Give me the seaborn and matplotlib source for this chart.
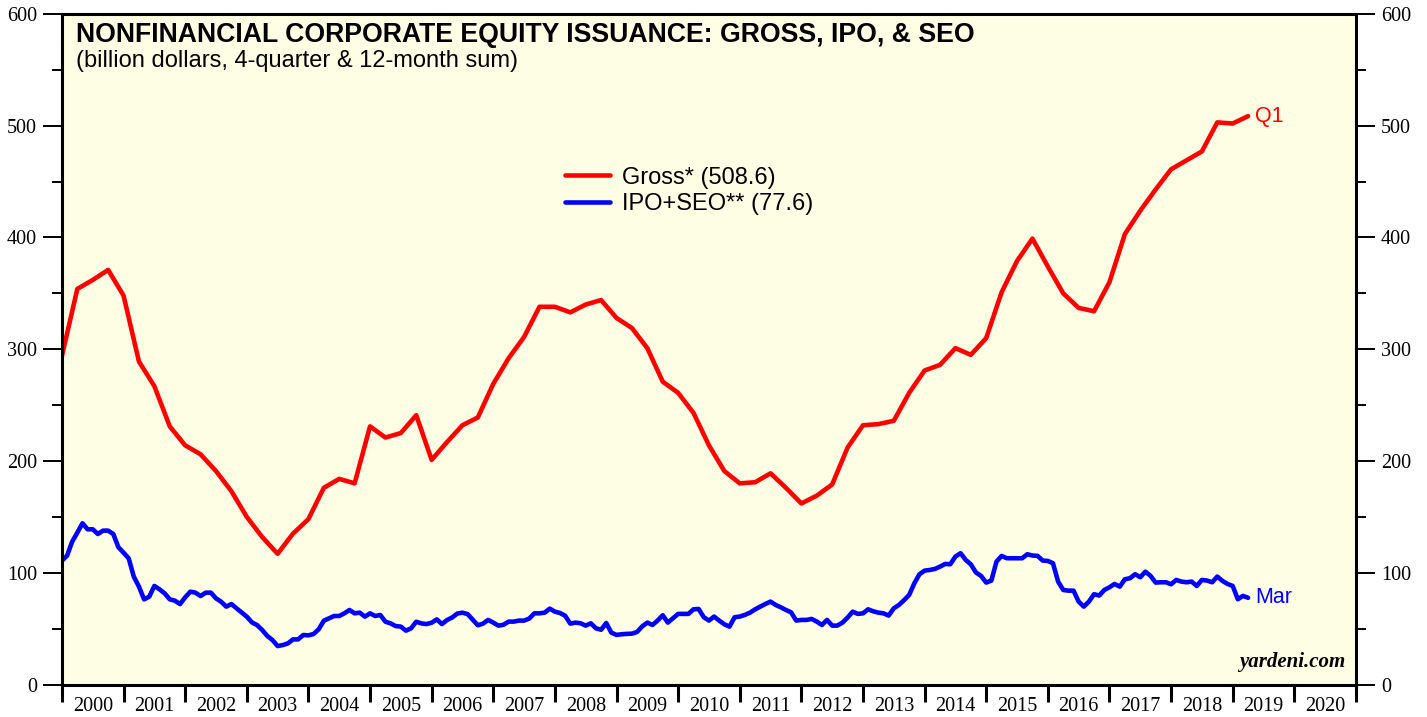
import numpy as np
import pandas as pd
import seaborn as sns
import matplotlib.pyplot as plt
from matplotlib.ticker import MultipleLocator, FixedLocator, NullFormatter

# gross issuance, 4-quarter sum, quarterly from 2000
gross = [294, 354, 362, 371, 348, 289, 267, 231, 214, 206,
         191, 173, 150, 132, 117, 135, 148, 176, 184, 180,
         231, 221, 225, 241, 201, 217, 232, 239, 269, 292,
         311, 338, 338, 333, 340, 344, 328, 319, 301, 271,
         261, 243, 214, 191, 180, 181, 189, 176, 162, 169,
         179, 212, 232, 233, 236, 261, 281, 286, 301, 295,
         310, 351, 379, 399, 374, 350, 337, 334, 360, 403,
         424, 443, 461, 469, 477, 503, 502, 508.6]

# IPO + SEO, 12-month sum, monthly from 2000
ipo_seo = [110.8, 115.3, 127.9, 135.9, 144.3, 138.9, 138.9, 134.7, 137.7, 137.7,
           134.7, 122.8, 118.0, 112.9, 96.5, 87.6, 76.2, 78.6, 88.2, 85.2,
           81.6, 76.2, 75.0, 72.0, 78.0, 83.1, 82.2, 79.2, 82.2, 82.2,
           77.1, 74.1, 69.7, 72.0, 68.2, 64.3, 60.7, 55.6, 53.2, 48.8,
           43.4, 39.8, 34.4, 35.3, 36.8, 40.4, 40.4, 44.3, 44.0, 45.2,
           49.4, 57.1, 59.2, 61.3, 61.3, 63.7, 66.7, 63.7, 64.3, 60.7,
           63.7, 61.3, 62.2, 56.2, 54.7, 52.3, 51.8, 48.2, 50.3, 56.2,
           54.7, 54.1, 55.3, 58.3, 54.1, 57.7, 60.0, 63.5, 64.3, 63.0,
           58.0, 53.0, 54.5, 57.8, 55.4, 52.7, 53.5, 56.3, 56.3, 57.2,
           57.2, 59.0, 63.7, 63.7, 64.3, 67.9, 65.2, 64.0, 61.5, 54.5,
           55.4, 54.8, 52.7, 54.8, 50.3, 49.0, 55.0, 46.4, 44.4, 45.0,
           45.3, 45.5, 47.0, 52.0, 55.4, 53.3, 57.2, 62.0, 55.4, 59.3,
           63.2, 63.2, 63.2, 67.3, 67.6, 60.2, 57.2, 60.8, 57.2, 53.9,
           51.8, 60.2, 60.8, 62.3, 64.3, 67.3, 69.7, 72.1, 74.2, 71.2,
           69.1, 66.7, 64.6, 57.2, 57.8, 57.8, 58.7, 56.3, 53.3, 57.8,
           52.7, 52.7, 55.4, 59.9, 65.2, 63.2, 63.7, 67.3, 65.5, 64.3,
           63.7, 61.7, 68.2, 71.2, 75.5, 80.2, 90.6, 98.7, 101.9, 102.5,
           103.4, 105.5, 107.9, 107.6, 114.5, 117.5, 111.5, 107.6, 100.2, 97.2,
           91.2, 93.0, 110.0, 115.1, 113.0, 113.0, 113.0, 113.0, 116.6, 115.4,
           115.1, 110.9, 110.6, 108.5, 92.1, 84.6, 84.0, 84.0, 74.2, 69.7,
           74.2, 80.8, 79.6, 84.6, 87.0, 90.0, 87.6, 94.2, 95.1, 98.7,
           96.0, 101.0, 97.2, 91.2, 91.5, 91.5, 89.7, 93.6, 92.1, 91.5,
           92.1, 88.2, 93.6, 93.0, 91.5, 96.6, 92.7, 90.0, 88.2, 76.3,
           79.3, 77.6]

years = list(range(2000, 2021))

gross_df = pd.DataFrame({'t': 2000 + np.arange(len(gross)) / 4, 'v': gross})
ipo_df = pd.DataFrame({'t': 2000 + np.arange(len(ipo_seo)) / 12, 'v': ipo_seo})

sns.set_theme(style="ticks")
plt.rcParams['font.family'] = ['Liberation Sans', 'DejaVu Sans']
plt.rcParams['text.color'] = 'black'

fig = plt.figure(figsize=(14.27, 7.17), dpi=100)
ax = fig.add_axes([0.0434, 0.0453, 0.9068, 0.9352])
ax.set_facecolor('#fefee4')

sns.lineplot(data=gross_df, x='t', y='v', ax=ax, color='#ff0000', lw=3.3,
             label='Gross* (508.6)')
sns.lineplot(data=ipo_df, x='t', y='v', ax=ax, color='#0000ff', lw=3.3,
             label='IPO+SEO** (77.6)')

ax.set_xlim(2000, 2021)
ax.set_ylim(0, 600)
ax.set_xlabel('')
ax.set_ylabel('')

# x axis: ticks at year boundaries, labels centred in each year
ax.xaxis.set_major_locator(FixedLocator(np.arange(2000, 2022)))
ax.xaxis.set_major_formatter(NullFormatter())
ax.xaxis.set_minor_locator(FixedLocator([y + 0.5 for y in years]))
ax.set_xticklabels([str(y) for y in years], minor=True)
ax.tick_params(axis='x', which='major', direction='out', length=12, width=2.2, color='black')
ax.tick_params(axis='x', which='minor', length=0, pad=9)

# y axis on both sides
ax.yaxis.set_major_locator(MultipleLocator(100))
ax.yaxis.set_minor_locator(MultipleLocator(50))
ax.tick_params(axis='y', which='both', left=True, right=True, labelleft=True, labelright=True,
               direction='out', color='black', labelcolor='black')
ax.tick_params(axis='y', which='major', length=14, width=1.4, pad=4, labelsize=14.5)
ax.tick_params(axis='y', which='minor', length=7, width=1.4)

for lab in ax.get_xticklabels(minor=True) + ax.get_yticklabels():
    lab.set_family(['Liberation Serif', 'DejaVu Serif'])
    lab.set_fontsize(14.5)
    lab.set_color('black')

for s in ax.spines.values():
    s.set_visible(True)
    s.set_linewidth(2.2)
    s.set_color('black')

ax.text(0.0108, 0.988, 'NONFINANCIAL CORPORATE EQUITY ISSUANCE: GROSS, IPO, & SEO',
        transform=ax.transAxes, ha='left', va='top', fontsize=19.2, fontweight='bold', color='black')
ax.text(0.0108, 0.947, '(billion dollars, 4-quarter & 12-month sum)',
        transform=ax.transAxes, ha='left', va='top', fontsize=17, color='black')

leg = ax.legend(loc='center left', bbox_to_anchor=(0.3887, 0.736), frameon=False,
                fontsize=17, handlelength=1.9, handletextpad=0.5, labelspacing=0.2,
                borderpad=0, borderaxespad=0)
for line in leg.get_lines():
    line.set_linewidth(3.3)
for txt in leg.get_texts():
    txt.set_color('black')

ax.text(gross_df['t'].iloc[-1] + 0.12, gross[-1], 'Q1', color='#ff0000', fontsize=15.5,
        ha='left', va='center')
ax.text(ipo_df['t'].iloc[-1] + 0.12, ipo_seo[-1], 'Mar', color='#0000ff', fontsize=15.5,
        ha='left', va='center')

ax.text(0.992, 0.018, 'yardeni.com', transform=ax.transAxes, ha='right', va='bottom',
        fontsize=15, fontweight='bold', fontstyle='italic',
        family=['Liberation Serif', 'DejaVu Serif'], color='black')

fig.savefig('out.png', dpi=100)
